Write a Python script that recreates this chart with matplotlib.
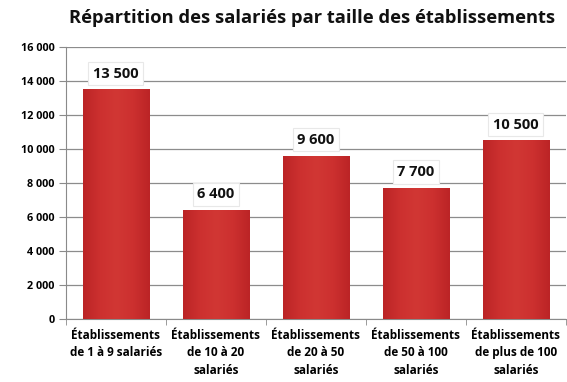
import numpy as np
import matplotlib
matplotlib.use("Agg")
import matplotlib.pyplot as plt
from matplotlib.colors import LinearSegmentedColormap

categories = [
    "Établissements\nde 1 à 9 salariés",
    "Établissements\nde 10 à 20\nsalariés",
    "Établissements\nde 20 à 50\nsalariés",
    "Établissements\nde 50 à 100\nsalariés",
    "Établissements\nde plus de 100\nsalariés",
]
values = [13500, 6400, 9600, 7700, 10500]
value_labels = ["13 500", "6 400", "9 600", "7 700", "10 500"]
yticks = [0, 2000, 4000, 6000, 8000, 10000, 12000, 14000, 16000]
ytick_labels = ["0", "2 000", "4 000", "6 000", "8 000", "10 000", "12 000", "14 000", "16 000"]
title = "Répartition des salariés par taille des établissements"

plt.rcParams["font.family"] = ["Open Sans", "DejaVu Sans"]

fig = plt.figure(figsize=(5.67, 3.82), dpi=100)
ax = fig.add_axes([0.116, 0.165, 0.882, 0.712])

x = np.arange(len(values))
width = 0.66
bars = ax.bar(x, values, width=width, color="#c82a2a", edgecolor="#b42224",
              linewidth=0.6, zorder=3)

# soft horizontal shading across each bar
cmap = LinearSegmentedColormap.from_list(
    "barshade", ["#bb2426", "#cc302f", "#d13734", "#cc302f", "#bb2426"])
grad = np.linspace(0, 1, 256).reshape(1, -1)
for b in bars:
    x0, w, h = b.get_x(), b.get_width(), b.get_height()
    im = ax.imshow(grad, cmap=cmap, aspect="auto",
                   extent=(x0, x0 + w, 0, h), zorder=3.5)
    im.set_clip_path(b)

for xi, v, lab in zip(x, values, value_labels):
    ax.annotate(lab, (xi, v), xytext=(0, 11.5), textcoords="offset points",
                ha="center", va="center", fontsize=10.5, fontweight="bold",
                color="#111111", zorder=5,
                bbox=dict(boxstyle="square,pad=0.32", fc="white",
                          ec="#e8e8e8", lw=0.8))

ax.set_xlim(-0.5, len(values) - 0.5)
ax.set_ylim(0, 16000)
ax.set_yticks(yticks)
ax.set_yticklabels(ytick_labels, fontsize=7.8, fontweight="bold")
ax.set_xticks(x)
ax.set_xticklabels(categories, fontsize=8.5, fontweight="bold", linespacing=1.45)
ax.tick_params(axis="x", length=0, pad=7)
ax.tick_params(axis="y", length=5, color="#8a8a8a", pad=3)
ax.set_xticks(np.arange(len(values) + 1) - 0.5, minor=True)
ax.tick_params(axis="x", which="minor", length=4, color="#8a8a8a")

ax.yaxis.grid(True, color="#8c8c8c", linewidth=0.9, zorder=0)
ax.set_axisbelow(True)
for s in ["top", "right"]:
    ax.spines[s].set_visible(False)
ax.spines["left"].set_color("#8a8a8a")
ax.spines["bottom"].set_color("#8a8a8a")

fig.text(0.55, 0.952, title, ha="center", va="center",
         fontsize=13.2, fontweight="bold", color="#111111")

fig.savefig("out.png", dpi=100)
